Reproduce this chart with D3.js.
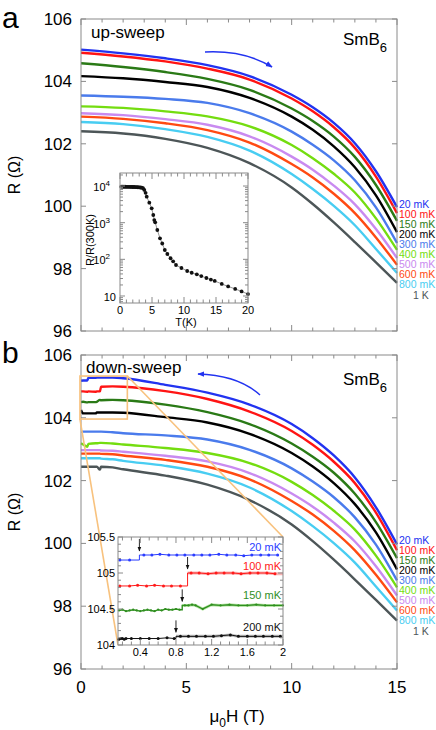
<!DOCTYPE html>
<html><head><meta charset="utf-8">
<script src="https://cdn.jsdelivr.net/npm/d3@7"></script>
<style>body{margin:0;background:#fff}svg{display:block}text{font-family:"Liberation Sans",Arial,Helvetica,sans-serif}</style>
</head><body><svg id="c" width="436" height="730"></svg>
<script>
// ---------- data ----------
const tempLabels = ["20 mK","100 mK","150 mK","200 mK","300 mK","400 mK","500 mK","600 mK","800 mK","1 K"];
const tempColors = ["#2233f0","#ff1414","#2a7a16","#000000","#4a7bec","#74dd10","#c98af0","#ff4a12","#48cdf2","#4d5658"];

const upH = [0,2,4,6,8,10,11,12,13,14,15];
const up20  = [105.02,104.90,104.74,104.52,104.17,103.57,103.17,102.67,102.02,101.12,99.97];
const up100 = [104.92,104.80,104.64,104.41,104.06,103.45,103.04,102.53,101.87,100.95,99.78];
const up150 = [104.58,104.46,104.30,104.08,103.73,103.13,102.73,102.23,101.58,100.68,99.53];
const up200 = [104.17,104.10,103.98,103.82,103.47,102.87,102.45,101.92,101.25,100.35,99.17];
const up300 = [103.55,103.51,103.44,103.31,102.98,102.39,101.97,101.47,100.83,99.96,98.82];
const up400 = [103.20,103.15,103.04,102.88,102.56,101.96,101.54,101.04,100.44,99.61,98.60];
const up500 = [102.98,102.92,102.79,102.61,102.24,101.59,101.17,100.66,100.06,99.27,98.34];
const up600 = [102.87,102.80,102.66,102.44,102.04,101.35,100.92,100.40,99.78,99.00,98.12];
const up800 = [102.70,102.63,102.47,102.22,101.78,101.03,100.55,100.01,99.39,98.63,97.86];
const up1K  = [102.40,102.33,102.16,101.87,101.38,100.60,100.07,99.48,98.85,98.20,97.54];

const downH = [0,0.1,0.3,0.35,0.7,0.75,0.9,0.95,1.5,2,4,6,8,10,11,12,13,14,15];
const down20  = [105.18,105.19,105.19,105.27,105.27,105.28,105.28,105.28,105.28,105.26,105.05,104.80,104.42,103.80,103.35,102.80,102.10,101.15,99.97];
const down100 = [104.84,104.84,104.83,104.84,104.83,104.84,104.84,104.99,105.00,104.99,104.85,104.60,104.20,103.58,103.14,102.60,101.92,100.98,99.78];
const down150 = [104.50,104.51,104.49,104.50,104.50,104.51,104.57,104.56,104.57,104.56,104.42,104.18,103.80,103.18,102.76,102.25,101.58,100.68,99.53];
const down200 = [104.25,104.14,104.14,104.14,104.14,104.17,104.17,104.17,104.17,104.16,104.02,103.85,103.49,102.88,102.45,101.92,101.25,100.35,99.17];
const down300 = [103.56,103.56,103.56,103.56,103.56,103.56,103.56,103.56,103.54,103.51,103.44,103.31,102.98,102.39,101.97,101.47,100.83,99.96,98.82];
const down400 = [103.19,103.15,103.08,103.17,103.19,103.19,103.20,103.20,103.18,103.15,103.04,102.88,102.56,101.96,101.54,101.04,100.44,99.61,98.60];
const down500 = [102.97,102.97,102.97,102.97,102.97,102.97,102.97,102.96,102.95,102.92,102.79,102.61,102.24,101.59,101.17,100.66,100.06,99.27,98.34];
const down600 = [102.86,102.86,102.86,102.86,102.86,102.86,102.86,102.85,102.84,102.80,102.66,102.44,102.04,101.35,100.92,100.40,99.78,99.00,98.12];
const down800 = [102.71,102.71,102.71,102.71,102.71,102.71,102.71,102.70,102.68,102.63,102.47,102.22,101.78,101.03,100.55,100.01,99.39,98.63,97.86];
const down1K  = [102.44,102.44,102.44,102.44,102.44,102.44,102.35,102.44,102.42,102.36,102.16,101.87,101.38,100.60,100.07,99.48,98.85,98.20,97.54];

const yTicks = [96,98,100,102,104,106];
const xTickLabels = [0,5,10,15];

// inset a: R/R(300K) vs T
const insetT = [0.2,0.4,0.6,0.8,1.0,1.2,1.4,1.6,1.8,2.0,2.2,2.4,2.6,2.8,3.0,3.2,3.4,3.6,3.8,4.0,4.17,4.58,4.95,5.2,5.36,5.5,5.83,6.25,6.6,7.0,7.4,7.9,8.3,8.75,9.6,10.5,11.2,12.0,12.7,13.5,14.2,14.8,15.9,16.9,18.0,19.0,20.0];
const insetRatio = [9600,9600,9550,9550,9500,9500,9500,9450,9450,9400,9400,9350,9300,9250,9200,9100,9000,8700,7800,6500,5120,3510,2470,1620,1180,1025,632,375,270,180,140,107,88,70,58,48,43,39,35,31,28,25.7,21.3,18.2,15.6,13.3,11.3];
const insetAXTicks = [0,5,10,15,20];

// inset b: low-field steps
const inLabels = ["20 mK","100 mK","150 mK","200 mK"];
const inColors = ["#2a3cff","#ff1a1a","#2f8f1f","#111111"];
const inBand = [null,"#f9b3b3","#b9e6a8","#bdbdbd"];
const in20H = [0.17,0.28,0.44,0.53,0.62,0.72,0.81,0.9,1.0,1.09,1.18,1.28,1.37,1.47,1.56,1.65,1.75,1.84,1.94];
const in20R = [105.18,105.18,105.25,105.25,105.26,105.25,105.25,105.25,105.25,105.25,105.25,105.26,105.25,105.25,105.24,105.25,105.25,105.25,105.25];
const in100H = [0.17,0.28,0.37,0.47,0.56,0.66,0.75,0.85,0.97,1.06,1.16,1.25,1.34,1.44,1.53,1.63,1.72,1.82,1.91];
const in100R = [104.82,104.82,104.83,104.82,104.83,104.82,104.82,104.82,105.0,105.0,104.99,105.0,105.0,105.0,104.99,105.0,105.0,105.0,104.99];
const in150H = [0.16,0.2,0.24,0.28,0.32,0.36,0.4,0.44,0.48,0.52,0.56,0.6,0.64,0.68,0.72,0.76,0.8,0.84,0.9,0.94,0.98,1.02,1.1,1.2,1.3,1.4,1.5,1.6,1.7,1.8,1.9,2.0];
const in150R = [104.48,104.49,104.47,104.48,104.49,104.48,104.47,104.48,104.49,104.48,104.47,104.49,104.48,104.5,104.49,104.49,104.5,104.49,104.55,104.55,104.56,104.55,104.5,104.56,104.55,104.56,104.55,104.55,104.56,104.55,104.55,104.55];
const in200H = [0.16,0.18,0.2,0.22,0.24,0.3,0.4,0.5,0.6,0.7,0.78,0.85,0.94,1.03,1.13,1.22,1.31,1.41,1.5,1.6,1.69,1.78,1.88,1.97];
const in200R = [104.08,104.09,104.09,104.08,104.09,104.09,104.09,104.09,104.09,104.1,104.09,104.12,104.12,104.12,104.12,104.12,104.13,104.14,104.12,104.12,104.12,104.12,104.12,104.12];
const inStepH = [0.39,0.93,0.87,0.8];
const inYTicks = [104,104.5,105,105.5];
const inXTicks = [0.4,0.8,1.2,1.6,2];
const zoomBoxH = [-0.05,2.2];
const zoomBoxR = [103.96,105.33];

// ---------- drawing ----------
const svg = d3.select("#c");
const frameCol = "#8a8a8a";
const x = d3.scaleLinear().domain([0,15]).range([81,397]);
const upSeries = [up20,up100,up150,up200,up300,up400,up500,up600,up800,up1K];
const downSeries = [down20,down100,down150,down200,down300,down400,down500,down600,down800,down1K];
const panels = [
  {y:d3.scaleLinear().domain([96,106]).range([331,19]), H:upH, S:upSeries, letter:"a", legendY:204},
  {y:d3.scaleLinear().domain([96,106]).range([669,355]), H:downH, S:downSeries, letter:"b", legendY:540}
];

function frameTicks(g, xs, ys, xMinor, xMajor, yMajor, yMinor){
  const [x0,x1] = xs.range(); const [y1,y0] = ys.range();
  xMinor.forEach(v=>{
    const len = xMajor.includes(v)?6:3.5;
    g.append("line").attr("x1",xs(v)).attr("x2",xs(v)).attr("y1",y1).attr("y2",y1-len).attr("stroke",frameCol);
    g.append("line").attr("x1",xs(v)).attr("x2",xs(v)).attr("y1",y0).attr("y2",y0+len).attr("stroke",frameCol);
  });
  (yMinor||[]).forEach(v=>{
    g.append("line").attr("x1",x0).attr("x2",x0+3).attr("y1",ys(v)).attr("y2",ys(v)).attr("stroke",frameCol);
    g.append("line").attr("x1",x1).attr("x2",x1-3).attr("y1",ys(v)).attr("y2",ys(v)).attr("stroke",frameCol);
  });
  yMajor.forEach(v=>{
    g.append("line").attr("x1",x0).attr("x2",x0+5).attr("y1",ys(v)).attr("y2",ys(v)).attr("stroke",frameCol);
    g.append("line").attr("x1",x1).attr("x2",x1-5).attr("y1",ys(v)).attr("y2",ys(v)).attr("stroke",frameCol);
  });
  g.append("rect").attr("x",x0).attr("y",y0).attr("width",x1-x0).attr("height",y1-y0)
    .attr("fill","none").attr("stroke",frameCol).attr("stroke-width",1);
}

const defs = svg.append("defs");
defs.append("marker").attr("id","ah").attr("viewBox","0 0 10 10").attr("refX",9).attr("refY",5)
  .attr("markerWidth",7).attr("markerHeight",7).attr("orient","auto").attr("markerUnits","userSpaceOnUse")
  .append("path").attr("d","M0,1 L10,5 L0,9 Z").attr("fill","#2233f0");
defs.append("marker").attr("id","ahk").attr("viewBox","0 0 10 10").attr("refX",9).attr("refY",5)
  .attr("markerWidth",5).attr("markerHeight",5).attr("orient","auto").attr("markerUnits","userSpaceOnUse")
  .append("path").attr("d","M0,1 L10,5 L0,9 Z").attr("fill","#111");

panels.forEach((p,pi)=>{
  const g = svg.append("g");
  const y = p.y;
  const line = d3.line().x(d=>x(d[0])).y(d=>y(d[1])).curve(d3.curveMonotoneX);
  for(let i=p.S.length-1;i>=0;i--){
    g.append("path").attr("d",line(p.H.map((h,j)=>[h,p.S[i][j]])))
      .attr("fill","none").attr("stroke",tempColors[i]).attr("stroke-width",2.4).attr("stroke-linejoin","round");
  }
  frameTicks(g, x, y, d3.range(0,16), [0,5,10,15], yTicks);
  yTicks.forEach(v=>g.append("text").attr("x",72).attr("y",y(v)).attr("dy","0.35em")
    .attr("text-anchor","end").attr("font-size",17).text(v));
  g.append("text").attr("x",2).attr("y",pi===0?28:363).attr("font-size",30).text(p.letter);
  const yc = (y.range()[0]+y.range()[1])/2;
  g.append("text").attr("transform",`translate(20,${yc}) rotate(-90)`).attr("text-anchor","middle")
    .attr("font-size",16).text("R (Ω)");
  // legend
  tempLabels.forEach((t,i)=>{
    const last = i===tempLabels.length-1;
    g.append("text").attr("x",last?413:399).attr("y",p.legendY+i*10+(last?1:0)).attr("dy","0.35em")
      .attr("font-size",10.5).attr("fill",tempColors[i]).text(t);
  });
  // SmB6
  const sm = g.append("text").attr("x",343).attr("y",pi===0?45:385).attr("font-size",17);
  sm.append("tspan").text("SmB");
  sm.append("tspan").attr("font-size",13).attr("dy",7).text("6");
});

// panel a extras
svg.append("text").attr("x",91).attr("y",38).attr("font-size",17).text("up-sweep");
svg.append("path").attr("d","M205,52 Q244,50 272,67").attr("fill","none").attr("stroke","#2233f0")
  .attr("stroke-width",1.5).attr("marker-end","url(#ah)");

// panel b extras
svg.append("text").attr("x",86).attr("y",373).attr("font-size",17).text("down-sweep");
svg.append("path").attr("d","M260,395 Q238,375 198,374").attr("fill","none").attr("stroke","#2233f0")
  .attr("stroke-width",1.5).attr("marker-end","url(#ah)");

// x axis labels bottom
xTickLabels.forEach(v=>svg.append("text").attr("x",x(v)).attr("y",693).attr("text-anchor","middle")
  .attr("font-size",17).text(v));
const xl = svg.append("text").attr("x",237).attr("y",722).attr("text-anchor","middle").attr("font-size",17);
xl.append("tspan").text("μ");
xl.append("tspan").attr("font-size",12).attr("dy",5).text("0");
xl.append("tspan").attr("dy",-5).text("H (T)");

// ---------- inset a ----------
{
  const xa = d3.scaleLinear().domain([0,20]).range([120,248]);
  const ya = d3.scaleLog().domain([6.44,22650]).range([303,173]);
  const g = svg.append("g");
  g.append("rect").attr("x",120).attr("y",173).attr("width",128).attr("height",130).attr("fill","#fff");
  const pts = insetT.map((t,i)=>[t,insetRatio[i]]);
  g.append("path").attr("d",d3.line().x(d=>xa(d[0])).y(d=>ya(d[1]))(pts)).attr("fill","none")
    .attr("stroke","#777").attr("stroke-width",0.8);
  g.selectAll("circle").data(pts).join("circle").attr("cx",d=>xa(d[0])).attr("cy",d=>ya(d[1]))
    .attr("r",1.9).attr("fill","#111");
  const minorY = [];
  [10,100,1000,10000].forEach(b=>{for(let k=2;k<10;k++){const v=b*k; if(v<22650) minorY.push(v);}});
  [7,8,9].forEach(v=>minorY.push(v));
  frameTicks(g, xa, ya, d3.range(0,21), [0,5,10,15,20], [10,100,1000,10000], minorY);
  insetAXTicks.forEach(v=>g.append("text").attr("x",xa(v)).attr("y",314).attr("text-anchor","middle")
    .attr("font-size",11).text(v));
  g.append("text").attr("x",186).attr("y",326).attr("text-anchor","middle").attr("font-size",11).text("T(K)");
  [[10,""],[100,"2"],[1000,"3"],[10000,"4"]].forEach(([v,e])=>{
    const t = g.append("text").attr("x",e?110:116).attr("y",ya(v)).attr("dy","0.45em").attr("text-anchor","end").attr("font-size",11);
    t.append("tspan").text("10");
    if(e){ t.append("tspan").attr("font-size",8).attr("dy",-5).text(e); }
  });
  g.append("text").attr("transform","translate(94,240) rotate(-90)").attr("text-anchor","middle")
    .attr("font-size",11).text("R/R(300K)");
}

// ---------- zoom box and inset b ----------
{
  const y = panels[1].y;
  const xb = d3.scaleLinear().domain([0.15,2]).range([118,283]);
  const yb = d3.scaleLinear().domain([104,105.5]).range([645,537]);
  const g = svg.append("g");
  const orange = "#f8c27e";
  g.append("rect").attr("x",x(zoomBoxH[0])).attr("y",y(zoomBoxR[1]))
    .attr("width",x(zoomBoxH[1])-x(zoomBoxH[0])).attr("height",y(zoomBoxR[0])-y(zoomBoxR[1]))
    .attr("fill","none").attr("stroke",orange).attr("stroke-width",1.6);
  g.append("line").attr("x1",x(zoomBoxH[1])).attr("y1",y(zoomBoxR[1])).attr("x2",xb(2)).attr("y2",yb(105.5))
    .attr("stroke",orange).attr("stroke-width",1.6);
  g.append("line").attr("x1",x(zoomBoxH[0])).attr("y1",y(zoomBoxR[0])).attr("x2",xb(0.15)).attr("y2",yb(104))
    .attr("stroke",orange).attr("stroke-width",1.6);
  g.append("rect").attr("x",118).attr("y",537).attr("width",165).attr("height",108).attr("fill","#fff");

  const series = [[in20H,in20R],[in100H,in100R],[in150H,in150R],[in200H,in200R]];
  const ln = d3.line().x(d=>xb(d[0])).y(d=>yb(d[1]));
  series.forEach(([H,R],i)=>{
    const pts = H.map((h,j)=>[h,R[j]]);
    const s = inStepH[i];
    const before = pts.filter(p=>p[0]<s), after = pts.filter(p=>p[0]>=s);
    const path = [...before,[s,before[before.length-1][1]],[s,after[0][1]],...after];
    if(inBand[i]) g.append("path").attr("d",ln([[s,after[0][1]],...after,[2,after[after.length-1][1]]]))
      .attr("fill","none").attr("stroke",inBand[i]).attr("stroke-width",3);
    g.append("path").attr("d",ln(path)).attr("fill","none").attr("stroke",inColors[i]).attr("stroke-width",i===2?1.4:1);
    g.selectAll(null).data(pts).join("circle").attr("cx",d=>xb(d[0])).attr("cy",d=>yb(d[1]))
      .attr("r",i===2?1.1:1.5).attr("fill",inColors[i]);
    const top = yb(Math.max(before[before.length-1][1],after[0][1]))-4;
    g.append("line").attr("x1",xb(s)).attr("x2",xb(s)).attr("y1",top-12).attr("y2",top)
      .attr("stroke","#111").attr("stroke-width",0.9).attr("marker-end","url(#ahk)");
  });
  [551,570,599,631].forEach((ty,i)=>g.append("text").attr("x",281).attr("y",ty).attr("text-anchor","end")
    .attr("font-size",11).attr("fill",inColors[i]).text(inLabels[i]));
  frameTicks(g, xb, yb, d3.range(2,21).map(k=>k/10), [0.4,0.8,1.2,1.6,2], inYTicks,
    [104.1,104.2,104.3,104.4,104.6,104.7,104.8,104.9,105.1,105.2,105.3,105.4]);
  inYTicks.forEach(v=>g.append("text").attr("x",115).attr("y",yb(v)).attr("dy","0.35em").attr("text-anchor","end")
    .attr("font-size",11).text(v));
  inXTicks.forEach(v=>g.append("text").attr("x",xb(v)).attr("y",656).attr("text-anchor","middle")
    .attr("font-size",11).text(v));
}
</script></body></html>
